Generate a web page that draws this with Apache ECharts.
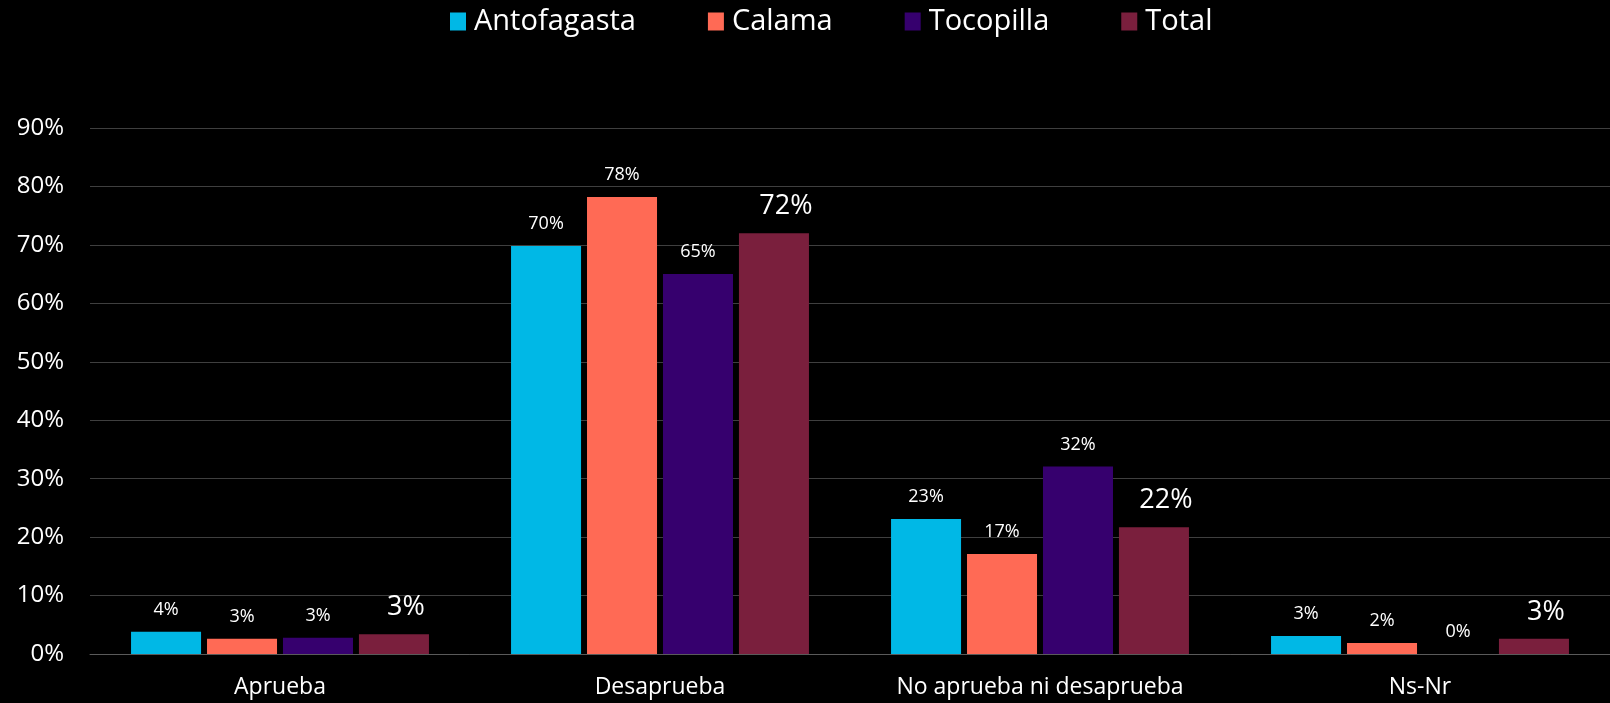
<!DOCTYPE html>
<html>
<head>
<meta charset="utf-8">
<script src="https://cdn.jsdelivr.net/npm/echarts@6/dist/echarts.min.js"></script>
<style>
html,body{margin:0;padding:0;background:#000;}
#chart{width:1610px;height:703px;}
</style>
</head>
<body>
<div id="chart"></div>
<script>
const categories = ["Aprueba", "Desaprueba", "No aprueba ni desaprueba", "Ns-Nr"];
const seriesNames = ["Antofagasta", "Calama", "Tocopilla", "Total"];
const antofagasta = [3.8, 69.8, 23.1, 3.1];
const calama = [2.6, 78.2, 17.1, 1.9];
const tocopilla = [2.8, 65.0, 32.1, 0.0];
const total = [3.4, 72.0, 21.7, 2.6];
const yTicks = [0, 10, 20, 30, 40, 50, 60, 70, 80, 90];

const colors = ["#00B8E6", "#FF6A55", "#36006E", "#7A1F3D"];
const values = [antofagasta, calama, tocopilla, total];
const FONT = "'Open Sans', 'Noto Sans', sans-serif";

const chart = echarts.init(document.getElementById('chart'));
chart.setOption({
  backgroundColor: '#000',
  textStyle: { fontFamily: FONT, color: '#fff' },
  legend: {
    top: 2,
    left: 445,
    itemWidth: 16,
    itemHeight: 18,
    itemGap: 72,
    icon: 'rect',
    textStyle: { color: '#fff', fontSize: 29, fontFamily: FONT, padding: [0, 0, 0, 3] },
    data: seriesNames
  },
  grid: { left: 90, right: 0, top: 128, bottom: 49, containLabel: false },
  xAxis: {
    type: 'category',
    data: categories,
    axisLine: { lineStyle: { color: '#5a5a5a', width: 1 } },
    axisTick: { show: false },
    axisLabel: { color: '#fff', fontSize: 23, margin: 22, fontFamily: FONT }
  },
  yAxis: {
    type: 'value',
    min: yTicks[0],
    max: yTicks[yTicks.length - 1],
    interval: 10,
    axisLine: { show: false },
    axisTick: { show: false },
    splitLine: { lineStyle: { color: '#3f3f3f', width: 1 } },
    axisLabel: { color: '#fff', fontSize: 24, margin: 26, formatter: '{value}%', fontFamily: FONT }
  },
  series: seriesNames.map((name, i) => ({
    name: name,
    type: 'bar',
    data: values[i],
    barGap: '8.5%',
    barCategoryGap: '21.6%',
    itemStyle: { color: colors[i] },
    label: {
      show: true,
      position: 'top',
      distance: 13,
      offset: i === 3 ? [12, 0] : [0, 0],
      color: '#fff',
      fontSize: i === 3 ? 27 : 18,
      fontFamily: FONT,
      formatter: p => Math.round(p.value) + '%'
    }
  }))
});
</script>
</body>
</html>
